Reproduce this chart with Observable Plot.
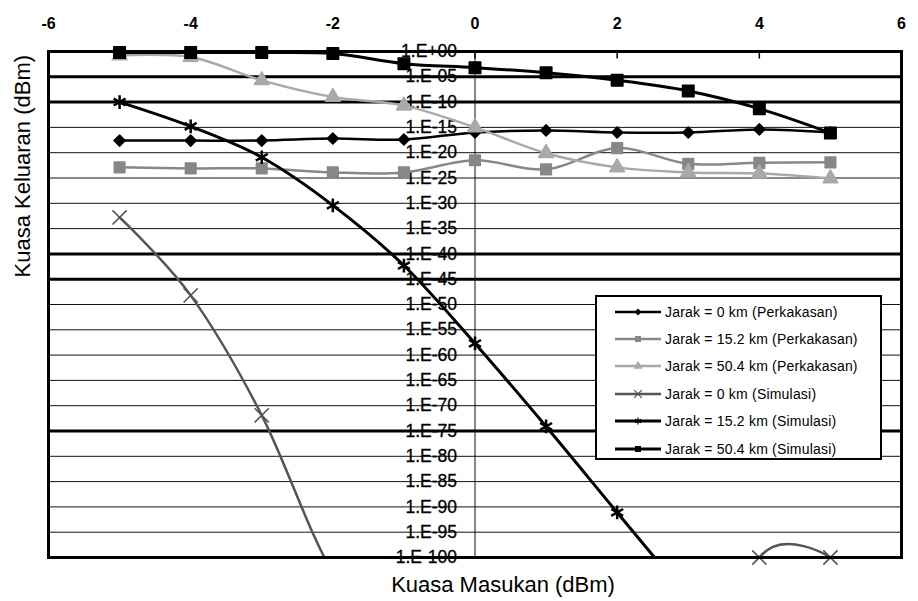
<!DOCTYPE html>
<html>
<head>
<meta charset="utf-8">
<script src="https://cdn.jsdelivr.net/npm/d3@7"></script>
<script src="https://cdn.jsdelivr.net/npm/@observablehq/plot@0.6"></script>
<style>
  html, body { margin: 0; padding: 0; background: #fff; }
  #wrap { position: relative; width: 918px; height: 601px; font-family: "Liberation Sans", Arial, sans-serif; }
  #legend { position: absolute; left: 595px; top: 295px; width: 287px; height: 165px; box-sizing: border-box;
            border: 2.5px solid #000; background: #fff; padding-top: 1px; }
  .row { height: 27.4px; display: flex; align-items: center; padding-left: 18px; font-size: 14px; letter-spacing: 0.2px; color: #000; }
  .row svg { margin-right: 4px; }
</style>
</head>
<body>
<div id="wrap"></div>
<script>
// ---- data ----
const xIn = [-5, -4, -3, -2, -1, 0, 1, 2, 3, 4, 5];
const perk0   = [-17.6, -17.6, -17.6, -17.2, -17.4, -16.0, -15.6, -16.0, -16.0, -15.4, -16.0];
const perk152 = [-22.9, -23.1, -23.1, -23.9, -23.9, -21.5, -23.3, -19.1, -22.2, -22.0, -21.9];
const perk504 = [-0.8, -1.1, -5.7, -9.0, -10.7, -15.0, -20.1, -22.9, -23.9, -24.1, -25.1];
const sim0    = [-32.8, -48.2, -71.9, -103, -118, -128, -134, -136, -136, -100, -100];
const sim152  = [-10.0, -14.8, -20.9, -30.4, -42.3, -57.7, -74.1, -91.1, -108, -125, -142];
const sim504  = [-0.2, -0.2, -0.2, -0.4, -2.4, -3.2, -4.2, -5.7, -7.8, -11.3, -16.1];
const seriesNames = [
  "Jarak = 0 km (Perkakasan)",
  "Jarak = 15.2 km (Perkakasan)",
  "Jarak = 50.4 km (Perkakasan)",
  "Jarak = 0 km (Simulasi)",
  "Jarak = 15.2 km (Simulasi)",
  "Jarak = 50.4 km (Simulasi)"
];
const xTicks = [-6, -4, -2, 0, 2, 4, 6];
const yTicks = [0, -5, -10, -15, -20, -25, -30, -35, -40, -45, -50, -55, -60, -65, -70, -75, -80, -85, -90, -95, -100];
const yTickLabels = ["1.E+00", "1.E-05", "1.E-10", "1.E-15", "1.E-20", "1.E-25", "1.E-30", "1.E-35", "1.E-40", "1.E-45",
  "1.E-50", "1.E-55", "1.E-60", "1.E-65", "1.E-70", "1.E-75", "1.E-80", "1.E-85", "1.E-90", "1.E-95", "1.E-100"];
const thickGrid = [-5, -10, -40, -45, -75];
const xLabel = "Kuasa Masukan (dBm)";
const yLabel = "Kuasa Keluaran (dBm)";

// ---- styles ----
const styles = [
  {stroke: "#000000", width: 2.5, symbol: "diamond2", r: 5,   fill: "#000000", d3sym: d3.symbolDiamond2, lsize: 30},
  {stroke: "#878787", width: 2.5, symbol: "square",   r: 6,   fill: "#878787", d3sym: d3.symbolSquare, lsize: 36},
  {stroke: "#a9a9a9", width: 2.5, symbol: "triangle", r: 5.5, fill: "#a9a9a9", d3sym: d3.symbolTriangle, lsize: 36},
  {stroke: "#555555", width: 2.5, symbol: "times",    r: 6.5, fill: "none",    d3sym: d3.symbolTimes, lsize: 40},
  {stroke: "#000000", width: 3,   symbol: "asterisk", r: 6.5, fill: "none",    d3sym: d3.symbolAsterisk, lsize: 36},
  {stroke: "#000000", width: 3,   symbol: "square",   r: 6.5, fill: "#000000", d3sym: d3.symbolSquare, lsize: 36}
];
const allValues = [perk0, perk152, perk504, sim0, sim152, sim504];
const rows = allValues.map((vals, i) => vals.map((v, j) => ({x: xIn[j], y: v, s: i})));

const seriesMarks = [];
rows.forEach((r, i) => {
  const st = styles[i];
  seriesMarks.push(Plot.line(r, {x: "x", y: "y", stroke: st.stroke, strokeWidth: st.width,
    curve: "cardinal", tension: 0, clip: true, strokeLinejoin: "round"}));
  const vis = r.filter(d => d.y >= -100 && d.y <= 0);
  if (st.fill === "none") {
    seriesMarks.push(Plot.dot(vis, {x: "x", y: "y", symbol: () => st.symbol, r: st.r,
      stroke: st.stroke, strokeWidth: st.width === 3 ? 2.5 : 1.6, fill: "none"}));
  } else {
    seriesMarks.push(Plot.dot(vis, {x: "x", y: "y", symbol: () => st.symbol, r: st.r,
      fill: st.fill, stroke: st.fill, strokeWidth: 1.5, strokeLinejoin: "round"}));
  }
});

const chart = Plot.plot({
  width: 918,
  height: 601,
  marginLeft: 48,
  marginRight: 17,
  marginTop: 51,
  marginBottom: 44,
  style: {fontFamily: "'Liberation Sans', Arial, sans-serif", background: "white", color: "black"},
  x: {domain: [-6, 6]},
  y: {domain: [-100, 0], axis: null},
  symbol: {type: "identity"},
  marks: [
    Plot.ruleY(yTicks.filter(d => !thickGrid.includes(d)), {stroke: "#111", strokeWidth: 1}),
    Plot.ruleY(thickGrid, {stroke: "#000", strokeWidth: 3}),
    Plot.ruleX([0], {stroke: "#111", strokeWidth: 1}),
    Plot.ruleX(xTicks, {y1: 0, y2: -1.5, stroke: "#000", strokeWidth: 1.5}),
    Plot.text(yTicks, {x: 0, y: d => d, text: (d, i) => yTickLabels[i], textAnchor: "end", dx: -18,
      fontSize: 17.5, fill: "#000", stroke: "#000", strokeWidth: 0.3}),
    ...seriesMarks,
    Plot.frame({stroke: "#000", strokeWidth: 3}),
    Plot.axisX({anchor: "top", ticks: xTicks, tickFormat: d => String(d), tickSize: 0, tickPadding: 23,
      fontSize: 16, fontWeight: "bold", label: null}),
    Plot.text([xLabel], {frameAnchor: "bottom", lineAnchor: "middle", dy: 27, dx: 28, fontSize: 22, fill: "#000"}),
    Plot.text([yLabel], {frameAnchor: "left", rotate: -90, dx: -26, dy: -27, fontSize: 22, fill: "#000"})
  ]
});
const wrap = document.getElementById("wrap");
wrap.appendChild(chart);

// ---- legend ----
const legend = document.createElement("div");
legend.id = "legend";
seriesNames.forEach((name, i) => {
  const st = styles[i];
  const row = document.createElement("div");
  row.className = "row";
  const svg = d3.create("svg").attr("width", 46).attr("height", 14);
  svg.append("line").attr("x1", 0).attr("x2", 46).attr("y1", 7).attr("y2", 7)
    .attr("stroke", st.stroke).attr("stroke-width", st.width);
  svg.append("path").attr("transform", "translate(23,7)")
    .attr("d", d3.symbol(st.d3sym, st.lsize)())
    .attr("fill", st.fill === "none" ? "none" : st.fill)
    .attr("stroke", st.fill === "none" ? st.stroke : "none")
    .attr("stroke-width", 1.2);
  row.appendChild(svg.node());
  const span = document.createElement("span");
  span.textContent = name;
  row.appendChild(span);
  legend.appendChild(row);
});
wrap.appendChild(legend);
</script>
</body>
</html>
